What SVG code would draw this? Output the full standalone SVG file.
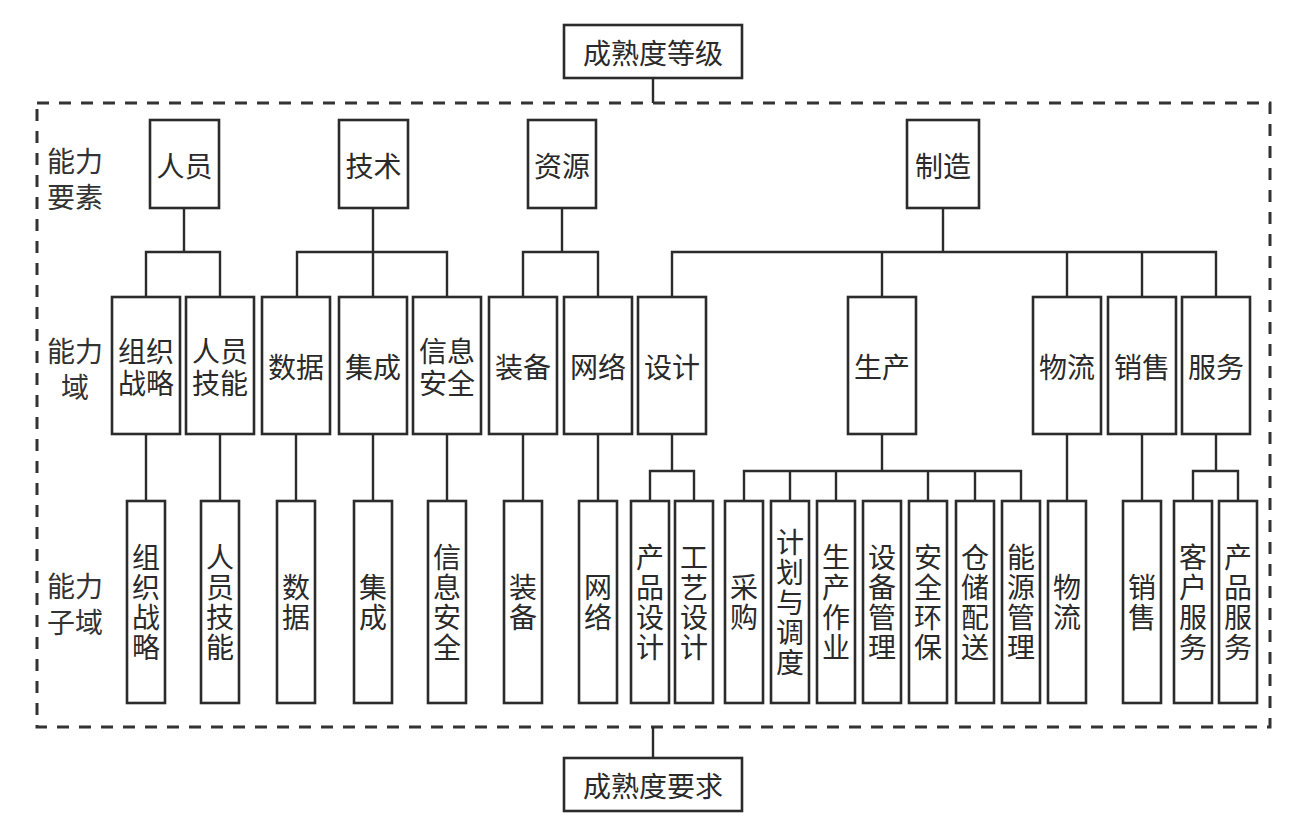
<svg xmlns="http://www.w3.org/2000/svg" width="1302" height="834" viewBox="0 0 1302 834">
<style>
  .bg { fill: #ffffff; }
  .box { fill: #ffffff; stroke: #2b2b2b; stroke-width: 2.6; }
  .frame { fill: none; stroke: #333333; stroke-width: 3; stroke-dasharray: 12 10; }
  .conn { fill: none; stroke: #2b2b2b; stroke-width: 2.4; }
  .t { font-family: "Noto Sans CJK SC", "Noto Sans", sans-serif; font-size: 28px; fill: #2a2a2a; text-anchor: middle; dominant-baseline: central; }
  .v { font-family: "Noto Sans CJK SC", "Noto Sans", sans-serif; font-size: 28px; fill: #2a2a2a; text-anchor: middle; writing-mode: vertical-rl; letter-spacing: 2px; }
  .lbl { font-family: "Noto Sans CJK SC", "Noto Sans", sans-serif; font-size: 28px; fill: #333333; text-anchor: middle; dominant-baseline: central; }
</style>
<rect class="bg" x="0" y="0" width="1302" height="834"/>

<rect id="frame" class="frame" x="37" y="103" width="1233" height="624"/>

<g id="side-labels">
  <text class="lbl" x="75" y="160">能力</text>
  <text class="lbl" x="75" y="196">要素</text>
  <text class="lbl" x="75" y="350">能力</text>
  <text class="lbl" x="75" y="386">域</text>
  <text class="lbl" x="75" y="585">能力</text>
  <text class="lbl" x="75" y="621">子域</text>
</g>

<g id="connectors">
  <path class="conn" d="M653,78 V103"/>
  <path class="conn" d="M653,727 V758"/>
  <path class="conn" d="M184,208 V252 M146,297 V252 H220 V297"/>
  <path class="conn" d="M373,208 V297 M297,297 V252 H447 V297"/>
  <path class="conn" d="M562,208 V252 M523,297 V252 H598 V297"/>
  <path class="conn" d="M943,208 V252 M672,297 V252 H1216 V297 M882,252 V297 M1067,252 V297 M1142,252 V297"/>
  <path class="conn" d="M146,434 V501 M220,434 V501 M296,434 V501 M373,434 V501 M447,434 V501 M523,434 V501 M598,434 V501"/>
  <path class="conn" d="M672,434 V471 M650,501 V471 H694 V501"/>
  <path class="conn" d="M882,434 V471 M744,501 V471 H1021 V501 M790,471 V501 M836,471 V501 M928,471 V501 M975,471 V501"/>
  <path class="conn" d="M1067,434 V501 M1142,434 V501"/>
  <path class="conn" d="M1216,434 V471 M1193,501 V471 H1238 V501"/>
</g>

<g id="n-top"><rect class="box" x="564" y="25" width="178" height="53"/><text class="t" x="653" y="52">成熟度等级</text></g>
<g id="n-bottom"><rect class="box" x="564" y="758" width="178" height="53"/><text class="t" x="653" y="785">成熟度要求</text></g>

<g id="n-renyuan"><rect class="box" x="150" y="120" width="69" height="88"/><text class="t" x="184.5" y="165">人员</text></g>
<g id="n-jishu"><rect class="box" x="339" y="120" width="69" height="88"/><text class="t" x="373.5" y="165">技术</text></g>
<g id="n-ziyuan"><rect class="box" x="528" y="120" width="68" height="88"/><text class="t" x="562" y="165">资源</text></g>
<g id="n-zhizao"><rect class="box" x="907" y="120" width="72" height="88"/><text class="t" x="943" y="165">制造</text></g>

<g id="d-zuzhi"><rect class="box" x="112" y="297" width="68" height="137"/><text class="t" x="146" y="350">组织</text><text class="t" x="146" y="382">战略</text></g>
<g id="d-renyuanjineng"><rect class="box" x="186" y="297" width="68" height="137"/><text class="t" x="220" y="350">人员</text><text class="t" x="220" y="382">技能</text></g>
<g id="d-shuju"><rect class="box" x="262" y="297" width="68" height="137"/><text class="t" x="296" y="366">数据</text></g>
<g id="d-jicheng"><rect class="box" x="339" y="297" width="68" height="137"/><text class="t" x="373" y="366">集成</text></g>
<g id="d-xinxi"><rect class="box" x="413" y="297" width="68" height="137"/><text class="t" x="447" y="350">信息</text><text class="t" x="447" y="382">安全</text></g>
<g id="d-zhuangbei"><rect class="box" x="489" y="297" width="68" height="137"/><text class="t" x="523" y="366">装备</text></g>
<g id="d-wangluo"><rect class="box" x="564" y="297" width="68" height="137"/><text class="t" x="598" y="366">网络</text></g>
<g id="d-sheji"><rect class="box" x="638" y="297" width="68" height="137"/><text class="t" x="672" y="366">设计</text></g>
<g id="d-shengchan"><rect class="box" x="848" y="297" width="68" height="137"/><text class="t" x="882" y="366">生产</text></g>
<g id="d-wuliu"><rect class="box" x="1033" y="297" width="68" height="137"/><text class="t" x="1067" y="366">物流</text></g>
<g id="d-xiaoshou"><rect class="box" x="1108" y="297" width="68" height="137"/><text class="t" x="1142" y="366">销售</text></g>
<g id="d-fuwu"><rect class="box" x="1182" y="297" width="68" height="137"/><text class="t" x="1216" y="366">服务</text></g>

<g id="s-zuzhi"><rect class="box" x="127" y="501" width="38" height="202"/><text class="v" x="146" y="603">组织战略</text></g>
<g id="s-renyuan"><rect class="box" x="201" y="501" width="38" height="202"/><text class="v" x="220" y="603">人员技能</text></g>
<g id="s-shuju"><rect class="box" x="277" y="501" width="38" height="202"/><text class="v" x="296" y="603">数据</text></g>
<g id="s-jicheng"><rect class="box" x="354" y="501" width="38" height="202"/><text class="v" x="373" y="603">集成</text></g>
<g id="s-xinxi"><rect class="box" x="428" y="501" width="38" height="202"/><text class="v" x="447" y="603">信息安全</text></g>
<g id="s-zhuangbei"><rect class="box" x="504" y="501" width="38" height="202"/><text class="v" x="523" y="603">装备</text></g>
<g id="s-wangluo"><rect class="box" x="579" y="501" width="38" height="202"/><text class="v" x="598" y="603">网络</text></g>
<g id="s-chanpinsheji"><rect class="box" x="631" y="501" width="38" height="202"/><text class="v" x="650" y="603">产品设计</text></g>
<g id="s-gongyisheji"><rect class="box" x="675" y="501" width="38" height="202"/><text class="v" x="694" y="603">工艺设计</text></g>
<g id="s-caigou"><rect class="box" x="725" y="501" width="38" height="202"/><text class="v" x="744" y="603">采购</text></g>
<g id="s-jihua"><rect class="box" x="771" y="501" width="38" height="202"/><text class="v" x="790" y="603">计划与调度</text></g>
<g id="s-shengchanzuoye"><rect class="box" x="817" y="501" width="38" height="202"/><text class="v" x="836" y="603">生产作业</text></g>
<g id="s-shebei"><rect class="box" x="863" y="501" width="38" height="202"/><text class="v" x="882" y="603">设备管理</text></g>
<g id="s-anquan"><rect class="box" x="909" y="501" width="38" height="202"/><text class="v" x="928" y="603">安全环保</text></g>
<g id="s-cangchu"><rect class="box" x="956" y="501" width="38" height="202"/><text class="v" x="975" y="603">仓储配送</text></g>
<g id="s-nengyuan"><rect class="box" x="1002" y="501" width="38" height="202"/><text class="v" x="1021" y="603">能源管理</text></g>
<g id="s-wuliu"><rect class="box" x="1048" y="501" width="38" height="202"/><text class="v" x="1067" y="603">物流</text></g>
<g id="s-xiaoshou"><rect class="box" x="1123" y="501" width="38" height="202"/><text class="v" x="1142" y="603">销售</text></g>
<g id="s-kehu"><rect class="box" x="1174" y="501" width="38" height="202"/><text class="v" x="1193" y="603">客户服务</text></g>
<g id="s-chanpinfuwu"><rect class="box" x="1219" y="501" width="38" height="202"/><text class="v" x="1238" y="603">产品服务</text></g>
</svg>
